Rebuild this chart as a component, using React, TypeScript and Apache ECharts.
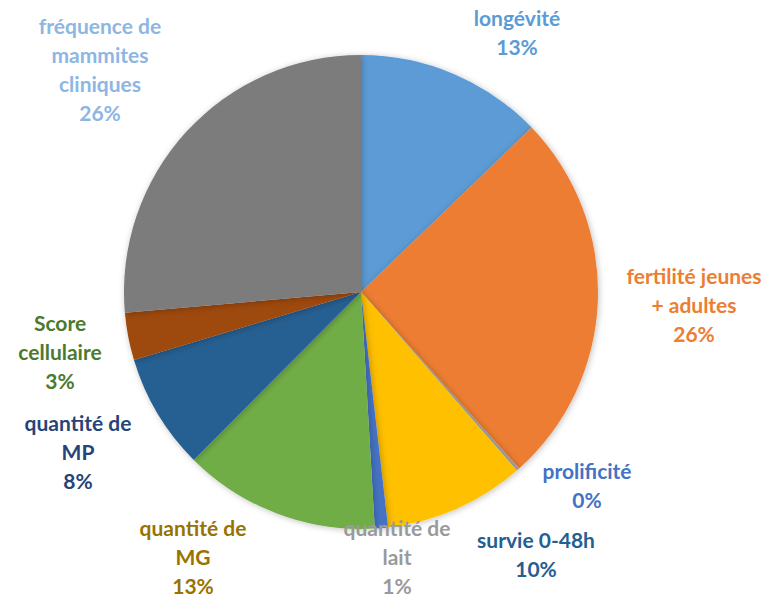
import React, { useEffect, useRef } from "react";
import * as echarts from "echarts";

const categories = [
  "longévité",
  "fertilité jeunes\n+ adultes",
  "prolificité",
  "survie 0-48h",
  "quantité de\nlait",
  "quantité de\nMG",
  "quantité de\nMP",
  "Score\ncellulaire",
  "fréquence de\nmammites\ncliniques",
];
const values = [12.8, 25.6, 0.2, 9.6, 0.9, 13.4, 7.9, 3.25, 26.4];

const sliceColors = [
  "#5B9BD5", "#ED7D31", "#A5A5A5", "#FFC000", "#4472C4",
  "#70AD47", "#255E91", "#9E480E", "#7B7B7B",
];
const labelColors = [
  "#5B9BD5", "#ED7D31", "#4472C4", "#255E91", "#9A9A9A",
  "#997300", "#264478", "#4B7A2F", "#8DB6E3",
];
// label centre positions (layout, not data)
const labelPos: [number, number][] = [
  [517, 32], [694, 304], [587, 485], [536, 554], [397, 556],
  [193, 556], [78, 451], [60, 351], [100, 69],
];

export default function App() {
  const ref = useRef<HTMLDivElement>(null);
  useEffect(() => {
    if (!ref.current) return;
    const chart = echarts.init(ref.current, null, { renderer: "svg" });
    chart.setOption({
      animation: false,
      backgroundColor: "#ffffff",
      series: [
        {
          type: "pie",
          center: [361, 292],
          radius: 237,
          startAngle: 90,
          clockwise: true,
          percentPrecision: 0,
          avoidLabelOverlap: false,
          data: categories.map((name, i) => ({
            name,
            value: values[i],
            itemStyle: { color: sliceColors[i] },
            label: { color: labelColors[i] },
          })),
          itemStyle: {
            shadowBlur: 6,
            shadowColor: "rgba(0,0,0,0.25)",
            shadowOffsetX: 1,
            shadowOffsetY: 1,
          },
          label: {
            show: true,
            position: "outside",
            formatter: "{b}\n{d}%",
            fontFamily: "Lato",
            fontWeight: "bold",
            fontSize: 21,
            lineHeight: 29,
            align: "center",
          },
          labelLine: { show: false },
          labelLayout: (params: any) => {
            const p = labelPos[params.dataIndex];
            return { x: p[0], y: p[1], align: "center", verticalAlign: "middle" };
          },
          emphasis: { disabled: true },
        },
      ],
    });
    return () => chart.dispose();
  }, []);
  return (
    <div
      ref={ref}
      style={{ position: "fixed", left: 0, top: 0, width: 774, height: 599 }}
    />
  );
}
